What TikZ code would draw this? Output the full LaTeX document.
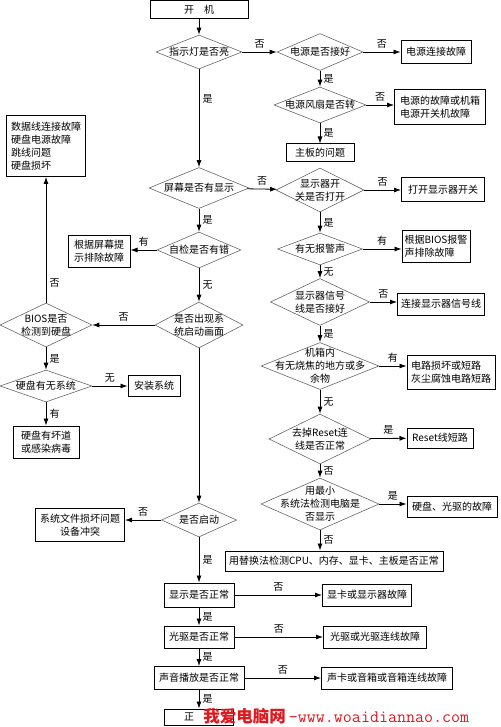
\documentclass[tikz,border=0pt]{standalone}
\usepackage{fontspec}
\setmainfont{Noto Sans CJK SC}
\usetikzlibrary{shapes.geometric,arrows.meta}
\definecolor{wmred}{RGB}{222,24,30}
\begin{document}
\begin{tikzpicture}[x=1pt,y=-1pt,line width=0.8pt,font=\fontsize{10}{13}\selectfont,
    >={Latex[length=7pt,width=5pt]},
    box/.style 2 args = {draw, line width=1pt, minimum width=#1pt, minimum height=#2pt, inner sep=1pt, align=center},
    dec/.style 2 args = {diamond, draw=black!60, line width=0.6pt, minimum width=#1pt, minimum height=#2pt, inner sep=0pt},
    txt/.style = {align=center, inner sep=0pt}]
    \useasboundingbox (0,0) rectangle (500,727);
        \node[box={98}{18}](1) at (199,10) {开\quad 机};
        \node[dec={86}{34}, label={[txt]center:指示灯是否亮}](2) at (199,52) {};
        \node[dec={86}{37}, label={[txt]center:电源是否接好}](3) at (320,52) {};
        \node[box={70}{23}](4) at (436,52) {电源连接故障};
        \node[dec={92}{36}, label={[txt]center:电源风扇是否转}](5) at (320,105) {};
        \node[box={91}{35}, align=left](6) at (440,107) {电源的故障或机箱\\电源开关机故障};
        \node[box={68}{18}](7) at (320,153) {主板的问题};
        \node[dec={100}{41}, label={[txt]center:屏幕是否有显示}](8) at (199,188) {};
        \node[dec={88}{44}, label={[txt]center:{显示器开\\关是否打开}}](9) at (320,190) {};
        \node[box={83}{24}](10) at (443,190) {打开显示器开关};
        \node[dec={84}{36}, label={[txt]center:自检是否有错}](11) at (199,250) {};
        \node[box={62}{32}](12) at (99,251) {根据屏幕提\\示排除故障};
        \node[dec={85}{32}, label={[txt]center:有无报警声}](13) at (320,249) {};
        \node[box={68}{32}, align=left](14) at (436,246) {根据BIOS报警\\声排除故障};
        \node[dec={88}{46}, label={[txt]center:{是否出现系\\统启动画面}}](15) at (199,325) {};
        \node[dec={99}{47}, label={[txt]center:{显示器信号\\线是否接好}}](16) at (320,302) {};
        \node[box={87}{22}](17) at (441,304) {连接显示器信号线};
        \node[dec={92}{44}, label={[txt]center:{BIOS是否\\检测到硬盘}}](18) at (46,325) {};
        \node[box={79}{61}, align=left](19) at (46,146) {数据线连接故障\\硬盘电源故障\\跳线问题\\硬盘损坏};
        \node[dec={92}{32}, label={[txt]center:硬盘有无系统}](20) at (46,386) {};
        \node[box={52}{21}](21) at (154,386) {安装系统};
        \node[box={66}{32}](22) at (46,442) {硬盘有坏道\\或感染病毒};
        \node[dec={118}{47}, label={[txt]center:{机箱内\\有无烧焦的地方或多\\余物}}](23) at (320,366) {};
        \node[box={88}{34}, align=left](24) at (451,372) {电路损坏或短路\\灰尘腐蚀电路短路};
        \node[dec={102}{50}, label={[txt]center:{去掉Reset连\\线是否正常}}](25) at (320,439) {};
        \node[box={66}{20}](26) at (440,438) {Reset线短路};
        \node[dec={118}{52}, label={[txt]center:{用最小\\系统法检测电脑是\\否显示}}](27) at (320,504) {};
        \node[box={90}{21}](28) at (452,507) {硬盘、光驱的故障};
        \node[dec={75}{34}, label={[txt]center:是否启动}](29) at (199,520) {};
        \node[box={89}{33}](30) at (80,525) {系统文件损坏问题\\设备冲突};
        \node[box={218}{20}](31) at (334,561) {用替换法检测CPU、内存、显卡、主板是否正常};
        \node[box={70}{24}](32) at (199,595) {显示是否正常};
        \node[box={89}{22}](33) at (367,595) {显卡或显示器故障};
        \node[box={70}{22}](34) at (199,637) {光驱是否正常};
        \node[box={103}{22}](35) at (375,637) {光驱或光驱连线故障};
        \node[box={90}{23}](36) at (199,678) {声音播放是否正常};
        \node[box={131}{22}](37) at (387,678) {声卡或音箱或音箱连线故障};
        \node[box={69}{16}](38) at (199,717) {正\quad\phantom{常}};
        \node[anchor=west, inner sep=0pt, text=wmred](39) at (203,716)
            {{\fontsize{16.5}{16.5}\selectfont\bfseries 我爱电脑网}\hspace{3pt}{\fontsize{17.5}{17.5}\selectfont\ttfamily —www.woaidiannao.com}};

        \draw[->] (1) -- (2);
        \draw[->] (2) -- node[above]{否} (3);
        \draw[->] (3) -- node[above]{否} (4);
        \draw[->] (3) -- node[right]{是} (5);
        \draw[->] (5) -- node[above]{否} (5 -| 6.west);
        \draw[->] (5) -- node[right]{是} (7);
        \draw[->] (2) -- node[pos=0.3, right]{是} (8);
        \draw[->] (8) -- node[above]{否} (9);
        \draw[->] (9) -- node[above]{否} (10);
        \draw[->] (9) -- node[right]{是} (13);
        \draw[->] (8) -- node[right]{是} (11);
        \draw[->] (11) -- node[above]{有} (11 -| 12.east);
        \draw[->] (11) -- node[right]{无} (15);
        \draw[->] (13) -- node[above]{有} (13 -| 14.west);
        \draw[->] (13) -- node[right]{无} (16);
        \draw[->] (16) -- node[above]{否} (16 -| 17.west);
        \draw[->] (16) -- node[right]{是} (23);
        \draw[->] (15) -- node[above]{否} (18);
        \draw[->] (18) -- node[pos=0.16, right]{否} (19);
        \draw[->] (18) -- node[right]{是} (20);
        \draw[->] (20) -- node[above]{无} (21);
        \draw[->] (20) -- node[right]{有} (22);
        \draw[->] (23) -- node[above]{有} (23 -| 24.west);
        \draw[->] (23) -- node[right]{无} (25);
        \draw[->] (25) -- node[above]{是} (26);
        \draw[->] (25) -- node[right]{否} (27);
        \draw[->] (27) -- node[above]{是} (27 -| 28.west);
        \draw[->] (27) -- node[right]{否} (27 |- 31.north);
        \draw[->] (15) -- (29);
        \draw[->] (29) -- node[above]{否} (29 -| 30.east);
        \draw[->] (29) -- node[right]{是} (32);
        \draw[->] (32) -- node[above]{否} (33);
        \draw[->] (32) -- node[right]{是} (34);
        \draw[->] (34) -- node[above]{否} (35);
        \draw[->] (34) -- node[right]{是} (36);
        \draw[->] (36) -- node[above]{否} (37);
        \draw[->] (36) -- node[right]{是} (38);
    \end{tikzpicture}
\end{document}
